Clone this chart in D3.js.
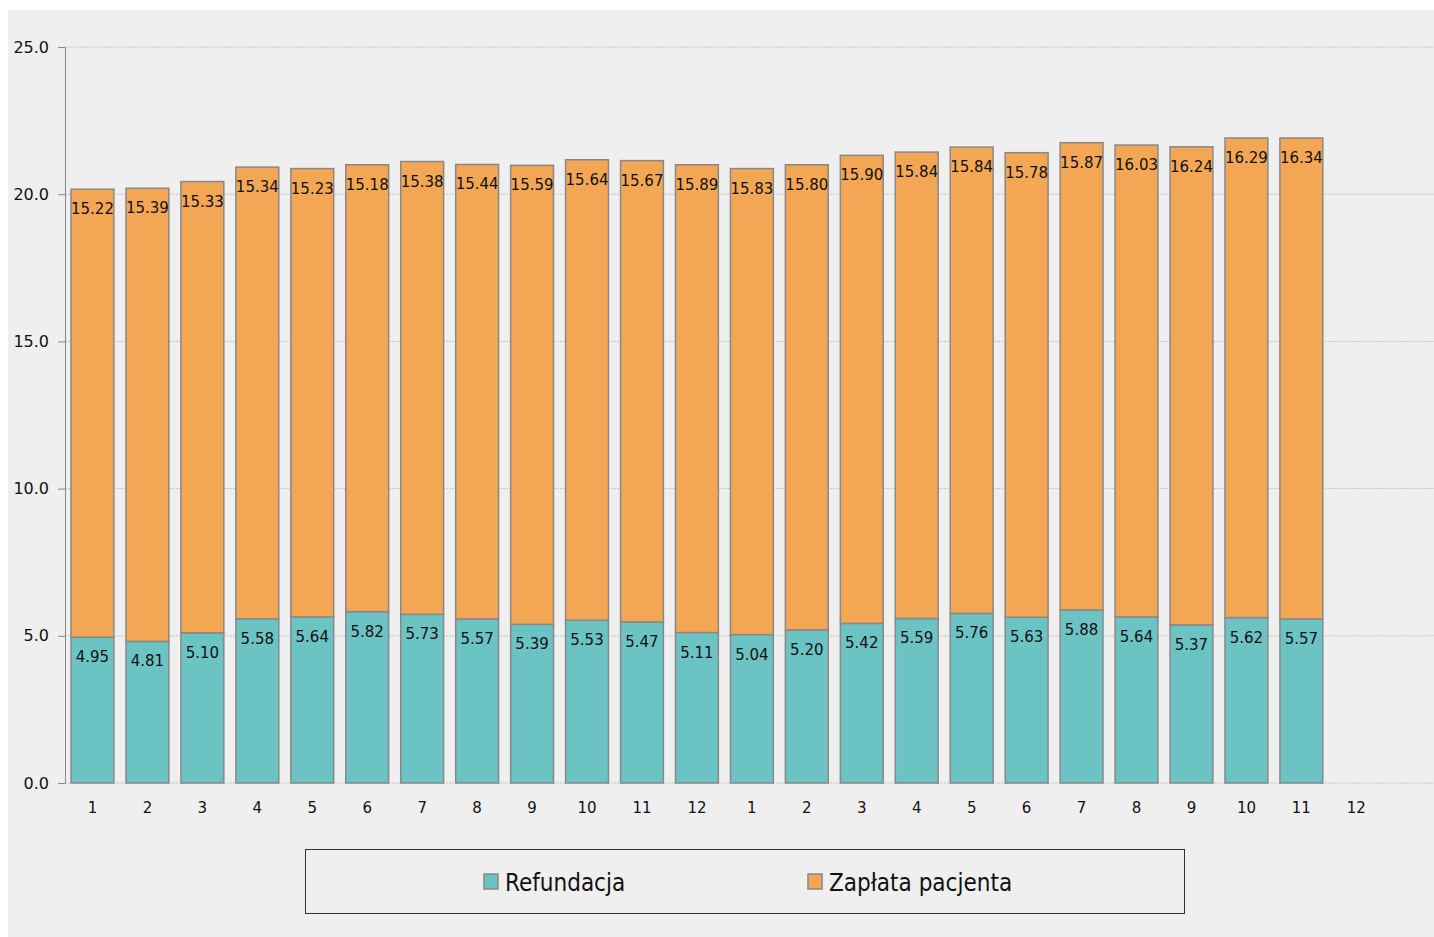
<!DOCTYPE html>
<html lang="pl">
<head>
    <meta charset="UTF-8">
    <title>Refundacja / Zapłata pacjenta</title>
    <script src="https://d3js.org/d3.v7.min.js"></script>
    <style>
        body { margin: 0; background: #fff; }
        svg { display: block; }
    </style>
</head>
<body>
<script>
    const categories = ["1","2","3","4","5","6","7","8","9","10","11","12",
                        "1","2","3","4","5","6","7","8","9","10","11","12"];
    const refundacja = [4.95, 4.81, 5.10, 5.58, 5.64, 5.82, 5.73, 5.57, 5.39, 5.53, 5.47, 5.11,
                        5.04, 5.20, 5.42, 5.59, 5.76, 5.63, 5.88, 5.64, 5.37, 5.62, 5.57];
    const zaplata = [15.22, 15.39, 15.33, 15.34, 15.23, 15.18, 15.38, 15.44, 15.59, 15.64, 15.67, 15.89,
                     15.83, 15.80, 15.90, 15.84, 15.84, 15.78, 15.87, 16.03, 16.24, 16.29, 16.34];
    const yTicks = [0, 5, 10, 15, 20, 25];
    const seriesNames = ["Refundacja", "Zapłata pacjenta"];
    const colors = ["#6cc3c4", "#f3a755"];

    const width = 1434;
    const height = 937;
    const font = "DejaVu Sans, Verdana, sans-serif";

    const svg = d3.select("body").append("svg")
        .attr("width", width)
        .attr("height", height);

    // grey panel
    svg.append("rect")
        .attr("x", 8).attr("y", 10)
        .attr("width", width - 8).attr("height", height - 10)
        .attr("fill", "#efefef");

    // index-based band so the repeated month labels stay separate
    const idx = d3.range(categories.length);
    const x = d3.scaleBand()
        .domain(idx)
        .range([65, 65 + 24 * 54.95])
        .paddingInner(0.22)
        .paddingOuter(0.11);

    const y = d3.scaleLinear()
        .domain([0, 25])
        .range([783, 47]);

    // gridlines
    svg.append("g")
        .selectAll("line")
        .data(yTicks)
        .join("line")
        .attr("x1", 65).attr("x2", width)
        .attr("y1", d => y(d)).attr("y2", d => y(d))
        .attr("stroke", "#c4c4c4")
        .attr("stroke-dasharray", "2,1");

    // y axis
    const yAxis = svg.append("g")
        .attr("transform", "translate(65,0)")
        .call(d3.axisLeft(y).tickValues(yTicks).tickFormat(d3.format(".1f")).tickSize(7).tickPadding(9));
    yAxis.select(".domain").attr("stroke", "#888");
    yAxis.selectAll(".tick line").attr("stroke", "#888");
    yAxis.selectAll("text")
        .attr("font-family", font)
        .attr("font-size", 16)
        .attr("fill", "#111");

    // x labels
    svg.append("g")
        .selectAll("text")
        .data(idx)
        .join("text")
        .attr("x", d => x(d) + x.bandwidth() / 2)
        .attr("y", 813)
        .attr("text-anchor", "middle")
        .attr("font-family", font)
        .attr("font-size", 15)
        .attr("fill", "#111")
        .text(d => categories[d]);

    // stacked bars
    const rows = refundacja.map((r, i) => ({ i: i, r: r, z: zaplata[i] }));
    const stack = d3.stack().keys(["r", "z"]);
    const layers = stack(rows);

    const g = svg.append("g");
    layers.forEach((layer, k) => {
        g.append("g")
            .selectAll("rect")
            .data(layer)
            .join("rect")
            .attr("x", d => x(d.data.i))
            .attr("width", x.bandwidth())
            .attr("y", d => y(d[1]))
            .attr("height", d => y(d[0]) - y(d[1]))
            .attr("fill", colors[k])
            .attr("stroke", "#888")
            .attr("stroke-width", 1.5);

        g.append("g")
            .selectAll("text")
            .data(layer)
            .join("text")
            .attr("x", d => x(d.data.i) + x.bandwidth() / 2)
            .attr("y", d => y(d[1]) + 25)
            .attr("text-anchor", "middle")
            .attr("font-family", font)
            .attr("font-size", 15)
            .attr("fill", "#111")
            .text(d => d3.format(".2f")(d[1] - d[0]));
    });

    // legend
    const legend = svg.append("g");
    legend.append("rect")
        .attr("x", 305.5).attr("y", 849.5)
        .attr("width", 879).attr("height", 64)
        .attr("fill", "none")
        .attr("stroke", "#333");

    const legendX = [484, 808];
    seriesNames.forEach((name, k) => {
        legend.append("rect")
            .attr("x", legendX[k]).attr("y", 874)
            .attr("width", 14).attr("height", 15)
            .attr("fill", colors[k])
            .attr("stroke", "#888")
            .attr("stroke-width", 1.5);
        legend.append("text")
            .attr("x", legendX[k] + 21).attr("y", 891)
            .attr("font-family", "DejaVu Sans Condensed, DejaVu Sans, sans-serif")
            .attr("font-size", 24)
            .attr("fill", "#111")
            .text(name);
    });
</script>
</body>
</html>
